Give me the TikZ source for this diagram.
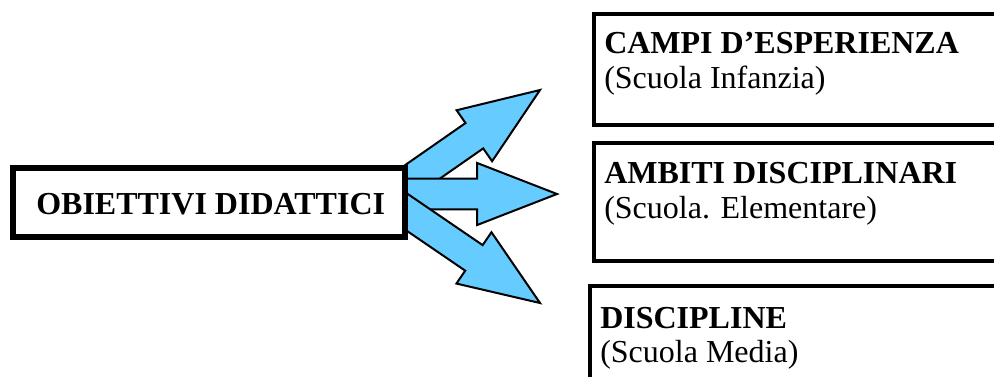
\documentclass[tikz,border=0pt]{standalone}
\usepackage{fontspec}
\setmainfont{Liberation Serif}
\usetikzlibrary{calc}
\definecolor{arrowblue}{RGB}{102,204,255}
\newcommand{\bigfont}{\fontsize{24}{26}\selectfont}
% block arrow from #1 (tail) to #2 (tip)
\newcommand{\fatarrow}[2]{%
	\coordinate (#1n) at ($(#2)!60pt!(#1)$);
	\draw[blockarrow] ($(#1)!11.6pt!90:(#2)$) -- ($(#1n)!11.6pt!90:(#2)$)
		-- ($(#1n)!23.3pt!90:(#2)$) -- (#2) -- ($(#1n)!23.3pt!-90:(#2)$)
		-- ($(#1n)!11.6pt!-90:(#2)$) -- ($(#1)!11.6pt!-90:(#2)$) -- cycle;
}

\begin{document}
\begin{tikzpicture}[x=0.75pt,y=-0.75pt,
		blockarrow/.style={fill=arrowblue,draw=black,line width=1.5pt,line join=miter},
		framebox/.style={draw=black,line width=2.6pt},
		title/.style={anchor=base west,inner sep=0pt,font=\bigfont\bfseries},
		sub/.style={anchor=base west,inner sep=0pt,font=\bigfont}]
			\clip (0,0) rectangle (994,376);
			% arrows
			\coordinate (o1) at (395,191);
			\coordinate (t1) at (540,90);
			\coordinate (o2) at (395,194);
			\coordinate (t2) at (557,194);
			\coordinate (o3) at (395,204);
			\coordinate (t3) at (540,303);
			\fatarrow{o1}{t1}
			\fatarrow{o2}{t2}
			\fatarrow{o3}{t3}
			% main box
			\draw[fill=white,line width=4.6pt] (13,168) rectangle (405,237);
			\node[title] (obj) at (36,214) {OBIETTIVI DIDATTICI};
			% school boxes
			\draw[framebox] (594,14) rectangle (1010,125);
			\draw[framebox] (594,143) rectangle (1010,261);
			\draw[framebox] (590,286) rectangle (1010,400);
			\node[title] (campi) at (604,53) {CAMPI D’ESPERIENZA};
			\node[sub] (infanzia) at (604,88) {(Scuola Infanzia)};
			\node[title] (ambiti) at (604,183) {AMBITI DISCIPLINARI};
			\node[sub] (elementare) at (604,218) {(Scuola. Elementare)};
			\node[title] (discipline) at (600,328) {DISCIPLINE};
			\node[sub] (media) at (600,362) {(Scuola Media)};
		\end{tikzpicture}
\end{document}
